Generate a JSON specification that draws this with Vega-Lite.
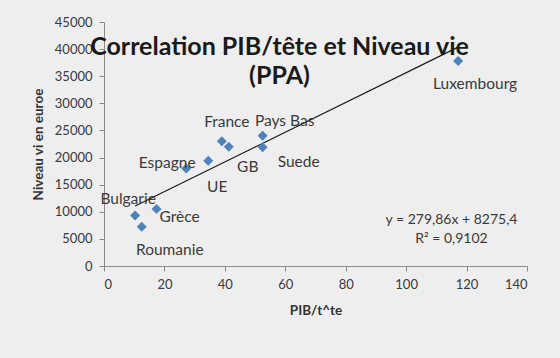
{
  "$schema": "https://vega.github.io/schema/vega-lite/v6.json",
  "autosize": {"type": "none"},
  "width": 423,
  "height": 244,
  "padding": {"left": 104, "top": 22, "right": 33, "bottom": 92},
  "background": "#eeeeee",
  "config": {"view": {"stroke": null}, "font": "Lato"},
  "title": {
    "text": ["Correlation PIB/tête et Niveau vie", "(PPA)"],
    "fontSize": 25,
    "fontWeight": "bold",
    "font": "Lato",
    "color": "#1a1a1a",
    "anchor": "middle",
    "frame": "group",
    "dx": -36,
    "dy": 73,
    "offset": 0,
    "lineHeight": 29
  },
  "data": {
    "values": [
      {"pays": "Bulgarie", "pib": 10.3, "niveau": 9300},
      {"pays": "Roumanie", "pib": 12.5, "niveau": 7250},
      {"pays": "Grèce", "pib": 17.4, "niveau": 10500},
      {"pays": "Espagne", "pib": 27.2, "niveau": 18000},
      {"pays": "UE", "pib": 34.5, "niveau": 19400},
      {"pays": "France", "pib": 39.0, "niveau": 23000},
      {"pays": "GB", "pib": 41.3, "niveau": 22000},
      {"pays": "Pays Bas", "pib": 52.5, "niveau": 24000},
      {"pays": "Suede", "pib": 52.5, "niveau": 21900},
      {"pays": "Luxembourg", "pib": 117.2, "niveau": 37800}
    ]
  },
  "encoding": {
    "x": {
      "field": "pib", "type": "quantitative",
      "scale": {"domain": [0, 140], "nice": false},
      "axis": {
        "title": "PIB/t^te", "values": [0, 20, 40, 60, 80, 100, 120, 140],
        "grid": false, "domainColor": "#8a8a8a", "tickColor": "#8a8a8a", "tickSize": 5,
        "labelFontSize": 13, "labelColor": "#3a3a3a", "labelPadding": 7,
        "titleFontSize": 13.5, "titleFontWeight": "bold", "titleColor": "#333333", "titlePadding": 12
      }
    },
    "y": {
      "field": "niveau", "type": "quantitative",
      "scale": {"domain": [0, 45000], "nice": false},
      "axis": {
        "title": "Niveau vi en euroe", "values": [0, 5000, 10000, 15000, 20000, 25000, 30000, 35000, 40000, 45000],
        "format": "d",
        "grid": false, "domainColor": "#8a8a8a", "tickColor": "#8a8a8a", "tickSize": 5,
        "labelFontSize": 13, "labelColor": "#3a3a3a", "labelPadding": 7,
        "titleFontSize": 13.5, "titleFontWeight": "bold", "titleColor": "#333333", "titlePadding": 9
      }
    }
  },
  "layer": [
    {
      "transform": [{"regression": "niveau", "on": "pib"}],
      "mark": {"type": "line", "color": "#1a1a1a", "strokeWidth": 1.2}
    },
    {
      "mark": {"type": "point", "shape": "diamond", "filled": true, "size": 100, "color": "#4f81bd", "opacity": 1}
    },
    {"transform": [{"filter": "datum.pays === 'Bulgarie'"}], "mark": {"type": "text", "font": "Lato", "fontSize": 15.5, "color": "#3a3a3a", "dx": -7, "dy": -17}, "encoding": {"text": {"field": "pays"}}},
    {"transform": [{"filter": "datum.pays === 'Roumanie'"}], "mark": {"type": "text", "font": "Lato", "fontSize": 15.5, "color": "#3a3a3a", "dx": 28, "dy": 23}, "encoding": {"text": {"field": "pays"}}},
    {"transform": [{"filter": "datum.pays === 'Grèce'"}], "mark": {"type": "text", "font": "Lato", "fontSize": 15.5, "color": "#3a3a3a", "dx": 23, "dy": 8}, "encoding": {"text": {"field": "pays"}}},
    {"transform": [{"filter": "datum.pays === 'Espagne'"}], "mark": {"type": "text", "font": "Lato", "fontSize": 15.5, "color": "#3a3a3a", "dx": -19, "dy": -5}, "encoding": {"text": {"field": "pays"}}},
    {"transform": [{"filter": "datum.pays === 'UE'"}], "mark": {"type": "text", "font": "Lato", "fontSize": 15.5, "color": "#3a3a3a", "dx": 9, "dy": 26}, "encoding": {"text": {"field": "pays"}}},
    {"transform": [{"filter": "datum.pays === 'France'"}], "mark": {"type": "text", "font": "Lato", "fontSize": 15.5, "color": "#3a3a3a", "dx": 5, "dy": -19}, "encoding": {"text": {"field": "pays"}}},
    {"transform": [{"filter": "datum.pays === 'GB'"}], "mark": {"type": "text", "font": "Lato", "fontSize": 15.5, "color": "#3a3a3a", "dx": 19, "dy": 20}, "encoding": {"text": {"field": "pays"}}},
    {"transform": [{"filter": "datum.pays === 'Pays Bas'"}], "mark": {"type": "text", "font": "Lato", "fontSize": 15.5, "color": "#3a3a3a", "dx": 22, "dy": -15}, "encoding": {"text": {"field": "pays"}}},
    {"transform": [{"filter": "datum.pays === 'Suede'"}], "mark": {"type": "text", "font": "Lato", "fontSize": 15.5, "color": "#3a3a3a", "dx": 36, "dy": 15}, "encoding": {"text": {"field": "pays"}}},
    {"transform": [{"filter": "datum.pays === 'Luxembourg'"}], "mark": {"type": "text", "font": "Lato", "fontSize": 15.5, "color": "#3a3a3a", "dx": 17, "dy": 23}, "encoding": {"text": {"field": "pays"}}},
    {
      "transform": [{"filter": "datum.pays === 'Luxembourg'"}],
      "mark": {"type": "text", "font": "Lato", "fontSize": 14, "color": "#3a3a3a", "align": "center", "baseline": "middle", "text": "y = 279,86x + 8275,4"},
      "encoding": {
        "x": {"datum": 115, "type": "quantitative"},
        "y": {"datum": 8480, "type": "quantitative"}
      }
    },
    {
      "transform": [{"filter": "datum.pays === 'Luxembourg'"}],
      "mark": {"type": "text", "font": "Lato", "fontSize": 14, "color": "#3a3a3a", "align": "center", "baseline": "middle", "text": "R² = 0,9102"},
      "encoding": {
        "x": {"datum": 115, "type": "quantitative"},
        "y": {"datum": 4980, "type": "quantitative"}
      }
    }
  ]
}
